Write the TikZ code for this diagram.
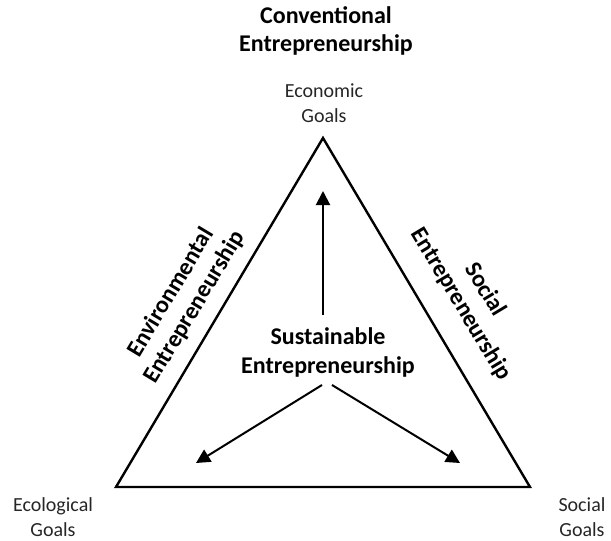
\documentclass[tikz,border=0pt]{standalone}
\usepackage{fontspec}
\setmainfont{Carlito}
\usetikzlibrary{arrows.meta}
\tikzset{
  edge/.style={line width=2.4pt, line join=miter},
  arr/.style={line width=2pt, -{Triangle[length=14pt,width=14pt]}},
  boldlbl/.style={font=\bfseries\fontsize{24}{28}\selectfont, align=center, inner sep=0pt},
  centrelbl/.style={font=\bfseries\fontsize{24}{29}\selectfont, align=center, inner sep=0pt},
  goal/.style={font=\fontsize{20}{25}\selectfont, align=center, inner sep=0pt, text=black!85},
}
\begin{document}
\begin{tikzpicture}[x=1pt,y=-1pt]
\useasboundingbox (0,0) rectangle (611,541);
\coordinate (top) at (323,138);
\coordinate (bl) at (116,487);
\coordinate (br) at (530,487);
\draw[edge] (top) -- (bl) -- (br) -- cycle;

\node[boldlbl] (conv) at (326,31) {Conventional\\Entrepreneurship};
\node[goal] (econ) at (324,103) {Economic\\Goals};
\node[goal] (ecol) at (53,517) {Ecological\\Goals};
\node[goal] (soc) at (582,517) {Social\\Goals};

\node[boldlbl, rotate=59] (env) at (183,300) {Environmental\\Entrepreneurship};
\node[boldlbl, rotate=-59] (socent) at (473,297) {Social\\Entrepreneurship};

\node[centrelbl] (sust) at (328,352) {Sustainable\\Entrepreneurship};

\coordinate (o1) at (323,315);
\coordinate (t1) at (323,191);
\coordinate (o2) at (322,385);
\coordinate (t2) at (196,463);
\coordinate (o3) at (332,385);
\coordinate (t3) at (460,463);
\draw[arr] (o1) -- (t1);
\draw[arr] (o2) -- (t2);
\draw[arr] (o3) -- (t3);
\end{tikzpicture}
\end{document}
